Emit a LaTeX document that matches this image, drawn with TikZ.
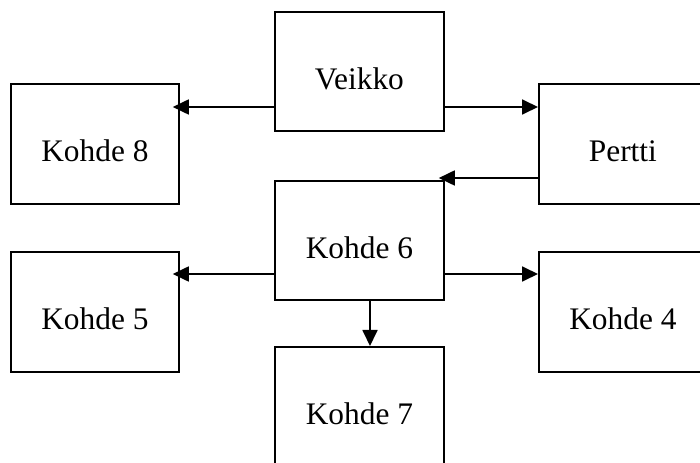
\documentclass[tikz,border=0pt]{standalone}
\usepackage{fontspec}
\setmainfont{Liberation Serif}
\usetikzlibrary{arrows.meta}
\begin{document}
\begin{tikzpicture}[x=1bp,y=-1bp,
  box/.style={draw=black, line width=1.8bp, fill=white, inner sep=0pt,
    minimum width=168bp, minimum height=120bp, font=\fontsize{31.5}{36}\selectfont,
    text height=36bp, text depth=0bp, anchor=north west},
  arr/.style={draw=black, line width=1.8bp, -{Triangle[length=16bp,width=15bp]}}]
\useasboundingbox[fill=white] (0,0) rectangle (700,463);
\node[box, minimum width=169bp, minimum height=119bp] (veikko) at (274,11) {Veikko};
\node[box] (k8) at (10,83) {Kohde 8};
\node[box] (pertti) at (538,83) {Pertti};
\node[box, minimum width=169bp, minimum height=119bp] (k6) at (274,180) {Kohde 6};
\node[box] (k5) at (10,251) {Kohde 5};
\node[box] (k4) at (538,251) {Kohde 4};
\node[box, minimum width=169bp] (k7) at (274,346) {Kohde 7};
\draw[arr, shorten >=-7bp] (veikko.west |- 0,107) -- (k8.east |- 0,107);
\draw[arr] (veikko.east |- 0,107) -- (pertti.west |- 0,107);
\draw[arr, shorten >=-6bp] (pertti.west |- 0,178) -- (k6.east |- 0,178);
\draw[arr, shorten >=-7bp] (k6.west |- 0,274) -- (k5.east |- 0,274);
\draw[arr] (k6.east |- 0,274) -- (k4.west |- 0,274);
\draw[arr] (k6.south -| 370,0) -- (k7.north -| 370,0);
\end{tikzpicture}
\end{document}
